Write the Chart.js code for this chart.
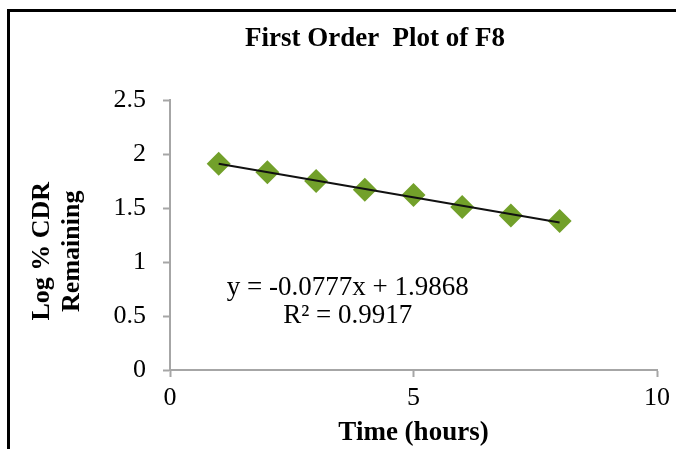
<!DOCTYPE html>
<html>
<head>
<meta charset="utf-8">
<script src="https://cdn.jsdelivr.net/npm/chart.js@4.4.1/dist/chart.umd.min.js"></script>
<style>
  html, body { margin: 0; padding: 0; background: #fff; }
  #frame {
    position: absolute; left: 7px; top: 9px; width: 680px; height: 450px;
    border-left: 3px solid #000; border-top: 3px solid #000;
  }
  #chart { position: absolute; left: 0; top: 0; }
</style>
</head>
<body>
<div id="frame"></div>
<canvas id="chart" width="676" height="449"></canvas>
<script>
// time in hours
const hours = [1, 2, 3, 4, 5, 6, 7, 8];
// log % CDR remaining
const logRemaining = [1.91, 1.83, 1.75, 1.67, 1.62, 1.51, 1.43, 1.38];
// linear trendline end points
const trendX = [1, 8];
const trendY = [1.909, 1.365];
const xTicks = [0, 5, 10];
const yTicks = [0, 0.5, 1, 1.5, 2, 2.5];

const serif = "'Liberation Serif', 'Times New Roman', serif";
const axisGrey = "#a6a6a6";

// title and trendline equation (Excel style text)
const textPlugin = {
    id: "texts",
    afterDraw(chart) {
        const ctx = chart.ctx;
        const xs = chart.scales.x, ys = chart.scales.y;
        ctx.save();
        ctx.fillStyle = "#000";
        ctx.textAlign = "center";
        ctx.textBaseline = "middle";
        ctx.font = "bold 27px " + serif;
        ctx.fillText("First Order  Plot of F8", 375, 39);
        ctx.font = "27px " + serif;
        const cx = xs.getPixelForValue(3.65);
        const cy = ys.getPixelForValue(0.76);
        ctx.fillText("y = -0.0777x + 1.9868", cx, cy);
        ctx.fillText("R\u00b2 = 0.9917", cx, cy + 28);
        ctx.restore();
    },
};

new Chart(document.getElementById("chart"), {
    type: "scatter",
    data: {
        datasets: [
            {
                label: "Trend",
                type: "line",
                data: trendX.map((x, i) => ({ x: x, y: trendY[i] })),
                borderColor: "#111",
                borderWidth: 2,
                pointRadius: 0,
                fill: false,
                order: 0,
            },
            {
                label: "F8",
                data: hours.map((h, i) => ({ x: h, y: logRemaining[i] })),
                pointStyle: "rectRot",
                pointRadius: 12,
                pointHoverRadius: 12,
                backgroundColor: "#72a02a",
                borderColor: "#72a02a",
                borderWidth: 0,
                order: 1,
            },
        ],
    },
    options: {
        responsive: false,
        animation: false,
        layout: { padding: { top: 100, right: 18, left: 0, bottom: 0 } },
        plugins: {
            legend: { display: false },
            tooltip: { enabled: false },
            title: { display: false },
        },
        scales: {
            x: {
                type: "linear",
                min: 0,
                max: 10,
                afterBuildTicks: (s) => { s.ticks = xTicks.map((v) => ({ value: v })); },
                afterFit: (s) => { s.height = 79; },
                grid: { drawOnChartArea: false, tickLength: 7, color: axisGrey, tickWidth: 2 },
                border: { color: axisGrey, width: 2 },
                ticks: {
                    color: "#000",
                    font: { family: serif, size: 26 },
                    padding: 6,
                    maxRotation: 0,
                    callback: (v) => String(v),
                },
                title: {
                    display: true,
                    text: "Time (hours)",
                    color: "#000",
                    font: { family: serif, size: 27, weight: "bold", lineHeight: 1.15 },
                    padding: { top: 0, bottom: 0 },
                },
            },
            y: {
                min: 0,
                max: 2.5,
                afterBuildTicks: (s) => { s.ticks = yTicks.map((v) => ({ value: v })); },
                afterFit: (s) => { s.width = 170; },
                grid: { drawOnChartArea: false, tickLength: 7, color: axisGrey, tickWidth: 2 },
                border: { color: axisGrey, width: 2 },
                ticks: {
                    color: "#000",
                    font: { family: serif, size: 26 },
                    padding: 17,
                    callback: (v) => String(v),
                },
                title: {
                    display: true,
                    // trailing spaces nudge the rotated lines a bit lower, as in the source
                    text: ["Log % CDR     ", "Remaining     "],
                    color: "#000",
                    font: { family: serif, size: 26, weight: "bold", lineHeight: 1.15 },
                    padding: { top: 27, bottom: 0 },
                },
            },
        },
    },
    plugins: [textPlugin],
});
</script>
</body>
</html>
